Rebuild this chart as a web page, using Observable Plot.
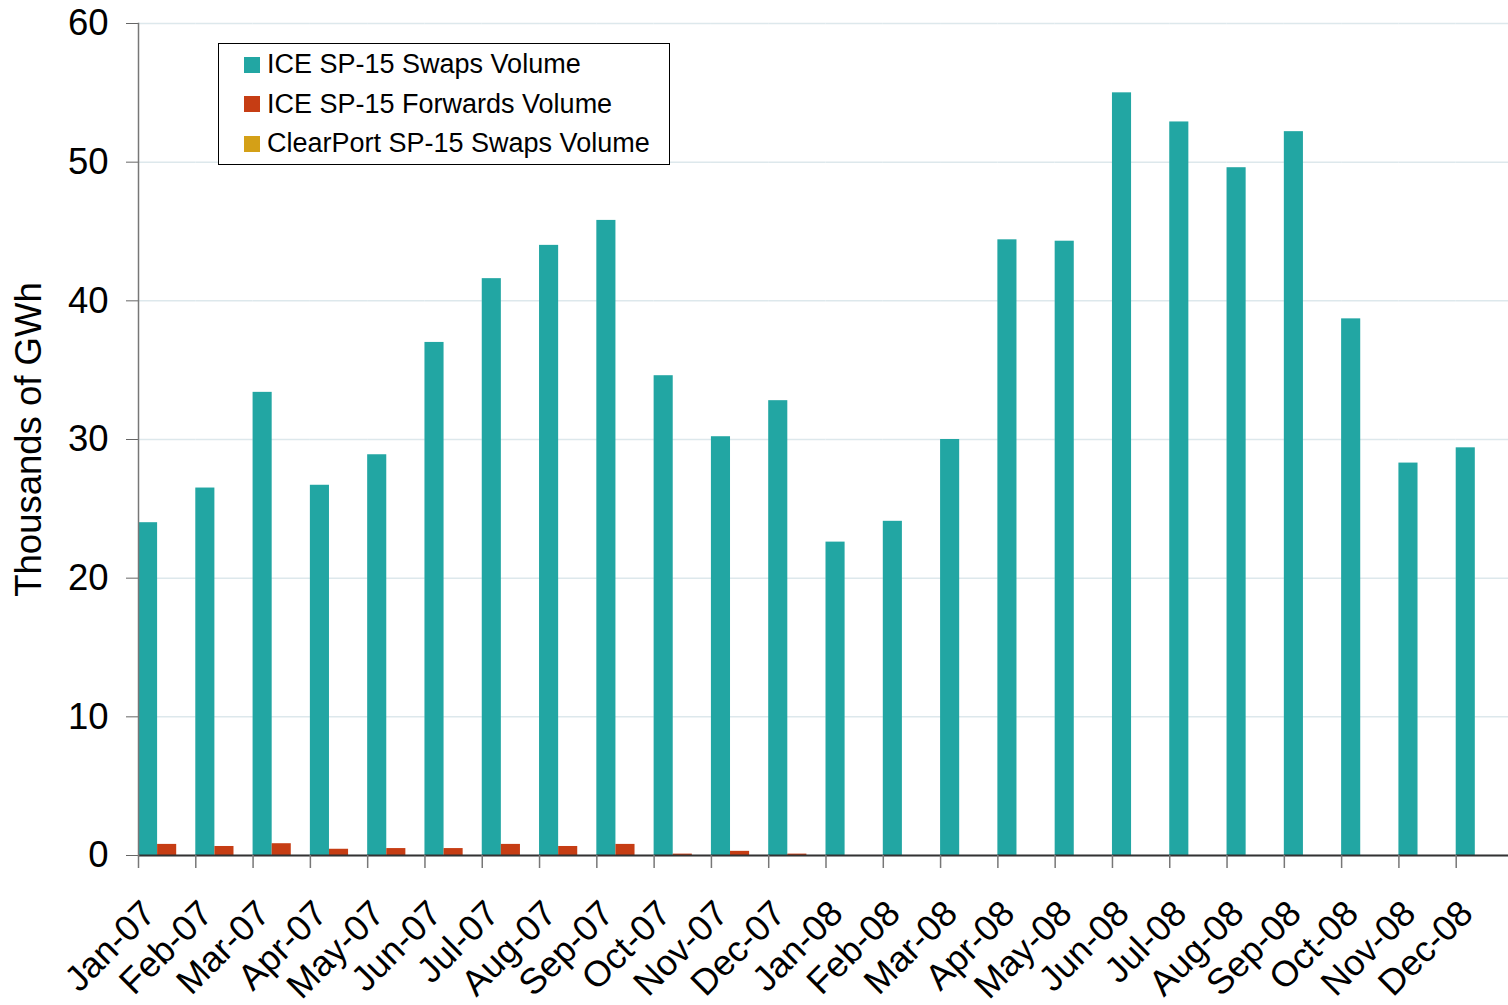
<!DOCTYPE html>
<html>
<head>
<meta charset="utf-8">
<script src="https://cdn.jsdelivr.net/npm/d3@7"></script>
<script src="https://cdn.jsdelivr.net/npm/@observablehq/plot@0.6"></script>
<style>
html, body { margin: 0; padding: 0; background: #fff; overflow: hidden; }
#wrap { position: relative; width: 1508px; height: 1005px; overflow: hidden; }
#chart svg { max-width: none !important; height: 1005px !important; }
#legend {
  position: absolute; left: 218px; top: 43px; width: 452px; height: 122px;
  box-sizing: border-box; border: 1px solid #000; background: #fff;
  font-family: "Liberation Sans", Arial, sans-serif; font-size: 27px; color: #000;
  padding-top: 1px;
}
#legend .row { height: 39.5px; line-height: 39.5px; display: flex; align-items: center; white-space: nowrap; }
#legend .sw { display: inline-block; width: 16px; height: 16px; margin-left: 25px; margin-right: 7px; }
</style>
</head>
<body>
<div id="wrap"><div id="chart"></div><div id="legend"></div></div>
<script>
const months = ["Jan-07","Feb-07","Mar-07","Apr-07","May-07","Jun-07","Jul-07","Aug-07","Sep-07","Oct-07","Nov-07","Dec-07",
                "Jan-08","Feb-08","Mar-08","Apr-08","May-08","Jun-08","Jul-08","Aug-08","Sep-08","Oct-08","Nov-08","Dec-08"];
const iceSwaps = [24.0, 26.5, 33.4, 26.7, 28.9, 37.0, 41.6, 44.0, 45.8, 34.6, 30.2, 32.8,
                  22.6, 24.1, 30.0, 44.4, 44.3, 55.0, 52.9, 49.6, 52.2, 38.7, 28.3, 29.4];
const iceForwards = [0.8, 0.65, 0.85, 0.45, 0.5, 0.5, 0.8, 0.65, 0.8, 0.1, 0.3, 0.1,
                     0, 0, 0, 0, 0, 0, 0, 0, 0, 0, 0, 0];
const clearPortSwaps = [0, 0, 0, 0, 0, 0, 0, 0, 0, 0, 0, 0,
                        0, 0, 0, 0, 0, 0, 0, 0, 0, 0, 0, 0];
const seriesNames = ["ICE SP-15 Swaps Volume", "ICE SP-15 Forwards Volume", "ClearPort SP-15 Swaps Volume"];
const seriesColors = ["#22a6a3", "#c63d14", "#d4a017"];
const yTicks = [0, 10, 20, 30, 40, 50, 60];
const yLabel = "Thousands of GWh";

const seriesValues = [iceSwaps, iceForwards, clearPortSwaps];
const data = months.flatMap((m, i) => seriesNames.map((s, j) => ({month: m, series: s, value: seriesValues[j][i]})));

const W = 1513, H = 1005, ML = 138, MR = 0, MT = 23, MB = 150;
const bw = (W - ML - MR) / months.length;

const chart = Plot.plot({
  width: W, height: H,
  marginLeft: ML, marginRight: MR, marginTop: MT, marginBottom: MB,
  style: {fontFamily: "'Liberation Sans', Arial, sans-serif", color: "#000", background: "#fff", overflow: "visible"},
  fx: {domain: months, padding: 0, round: false},
  x: {domain: seriesNames, padding: 0, round: false, axis: null},
  y: {domain: [0, 60]},
  color: {domain: seriesNames, range: seriesColors},
  marks: [
    Plot.gridY(yTicks, {stroke: "#dde8ec", strokeOpacity: 1, strokeWidth: 1.5}),
    Plot.barY(data, {fx: "month", x: "series", y: "value", fill: "series"}),
    Plot.ruleY([0], {stroke: "#333", strokeWidth: 2}),
    Plot.axisY(yTicks, {anchor: "left", tickSize: 12, tickPadding: 18, fontSize: 36.5, stroke: "#666",
      label: yLabel, labelAnchor: "center", labelOffset: 123, labelArrow: "none"}),
    Plot.frame({anchor: "left", facetAnchor: "left", stroke: "#777", strokeWidth: 1.5}),
    Plot.axisFx({anchor: "bottom", tickSize: 13, tickFormat: () => "", dx: -bw / 2, stroke: "#777", strokeWidth: 1.5, label: null}),
    Plot.axisFx({anchor: "bottom", tickSize: 0, tickPadding: 52, tickRotate: -45, fontSize: 36, dx: -18, label: null})
  ]
});
document.getElementById("chart").appendChild(chart);

const legend = document.getElementById("legend");
seriesNames.forEach((s, i) => {
  const row = document.createElement("div");
  row.className = "row";
  const sw = document.createElement("span");
  sw.className = "sw";
  sw.style.background = seriesColors[i];
  row.appendChild(sw);
  row.appendChild(document.createTextNode(s));
  legend.appendChild(row);
});
</script>
</body>
</html>
